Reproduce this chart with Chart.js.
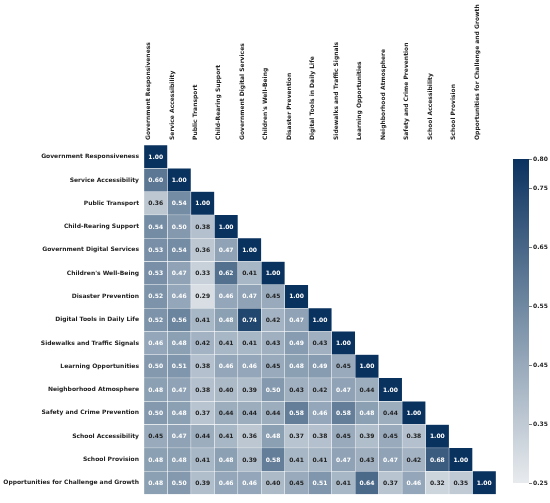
<!DOCTYPE html>
<html>
<head>
<meta charset="utf-8">
<script src="https://cdn.jsdelivr.net/npm/chart.js@4"></script>
<style>
  html, body { margin: 0; padding: 0; background: #fff; overflow: hidden; }
  #wrap { position: relative; width: 550px; height: 503px; }
  #heatmap { position: absolute; left: 0; top: 0; }
  #colorbar { position: absolute; left: 513px; top: 150px; }
</style>
</head>
<body>
<div id="wrap">
  <canvas id="heatmap" width="550" height="503"></canvas>
  <canvas id="colorbar" width="37" height="345"></canvas>
</div>
<script>
// Variables (rows and columns of the correlation matrix)
const labels = [
  'Government Responsiveness', 'Service Accessibility', 'Public Transport',
  'Child-Rearing Support', 'Government Digital Services', "Children's Well-Being",
  'Disaster Prevention', 'Digital Tools in Daily Life', 'Sidewalks and Traffic Signals',
  'Learning Opportunities', 'Neighborhood Atmosphere', 'Safety and Crime Prevention',
  'School Accessibility', 'School Provision', 'Opportunities for Challenge and Growth'
];

// Lower triangle, one array per row
const rowGR   = [1.00];
const rowSA   = [0.60, 1.00];
const rowPT   = [0.36, 0.54, 1.00];
const rowCRS  = [0.54, 0.50, 0.38, 1.00];
const rowGDS  = [0.53, 0.54, 0.36, 0.47, 1.00];
const rowCWB  = [0.53, 0.47, 0.33, 0.62, 0.41, 1.00];
const rowDP   = [0.52, 0.46, 0.29, 0.46, 0.47, 0.45, 1.00];
const rowDTDL = [0.52, 0.56, 0.41, 0.48, 0.74, 0.42, 0.47, 1.00];
const rowSTS  = [0.46, 0.48, 0.42, 0.41, 0.41, 0.43, 0.49, 0.43, 1.00];
const rowLO   = [0.50, 0.51, 0.38, 0.46, 0.46, 0.45, 0.48, 0.49, 0.45, 1.00];
const rowNA   = [0.48, 0.47, 0.38, 0.40, 0.39, 0.50, 0.43, 0.42, 0.47, 0.44, 1.00];
const rowSCP  = [0.50, 0.48, 0.37, 0.44, 0.44, 0.44, 0.58, 0.46, 0.58, 0.48, 0.44, 1.00];
const rowSchA = [0.45, 0.47, 0.44, 0.41, 0.36, 0.48, 0.37, 0.38, 0.45, 0.39, 0.45, 0.38, 1.00];
const rowSP   = [0.48, 0.48, 0.41, 0.48, 0.39, 0.58, 0.41, 0.41, 0.47, 0.43, 0.47, 0.42, 0.68, 1.00];
const rowOCG  = [0.48, 0.50, 0.39, 0.46, 0.46, 0.40, 0.45, 0.51, 0.41, 0.64, 0.37, 0.46, 0.32, 0.35, 1.00];

const rows = [rowGR, rowSA, rowPT, rowCRS, rowGDS, rowCWB, rowDP, rowDTDL,
              rowSTS, rowLO, rowNA, rowSCP, rowSchA, rowSP, rowOCG];

// Colour bar range and ticks
const vmin = 0.25;
const vmax = 0.80;
const cbTicks = [0.25, 0.35, 0.45, 0.55, 0.65, 0.75, 0.80];

// Colour map stops (position 0..1 -> rgb)
const cmapStops = [
  [0.0, [232, 235, 238]],
  [0.5, [122, 145, 168]],
  [1.0, [10, 50, 95]]
];

function cmap(t) {
  t = Math.max(0, Math.min(1, t));
  for (let k = 1; k < cmapStops.length; k++) {
    const [p1, c1] = cmapStops[k];
    const [p0, c0] = cmapStops[k - 1];
    if (t <= p1) {
      const f = (t - p0) / (p1 - p0);
      const c = c0.map((v, j) => Math.round(v + (c1[j] - v) * f));
      return 'rgb(' + c.join(',') + ')';
    }
  }
  return 'rgb(' + cmapStops[cmapStops.length - 1][1].join(',') + ')';
}

function colorFor(v) {
  return cmap((v - vmin) / (vmax - vmin));
}

const FONT = "'DejaVu Sans', sans-serif";
const TEXT = '#222222';

// Draw the numbers in each cell
const annotate = {
  id: 'annotate',
  afterDatasetsDraw(chart) {
    const ctx = chart.ctx;
    ctx.save();
    ctx.font = 'bold 6px ' + FONT;
    ctx.textAlign = 'center';
    ctx.textBaseline = 'middle';
    chart.data.datasets.forEach((ds, i) => {
      const meta = chart.getDatasetMeta(i);
      meta.data.forEach((bar, c) => {
        const v = ds.values[c];
        if (v === undefined || bar.skip) return;
        const p = bar.getCenterPoint();
        ctx.fillStyle = v >= 0.455 ? '#ffffff' : TEXT;
        ctx.fillText(v.toFixed(2), p.x, p.y + 0.5);
      });
    });
    ctx.restore();
  }
};

const datasets = rows.map((row, i) => ({
  data: labels.map((_, c) => (c <= i ? [i - 0.5, i + 0.5] : null)),
  values: row,
  backgroundColor: ctx => colorFor(row[ctx.dataIndex]),
  borderColor: '#ffffff',
  borderWidth: 0.5,
  borderSkipped: false,
  grouped: false,
  barPercentage: 1,
  categoryPercentage: 1
}));

new Chart(document.getElementById('heatmap'), {
  type: 'bar',
  data: { labels: labels, datasets: datasets },
  plugins: [annotate],
  options: {
    responsive: false,
    animation: false,
    layout: { padding: { left: 0, top: 0, right: 54, bottom: 5 } },
    plugins: { legend: { display: false }, tooltip: { enabled: false } },
    scales: {
      x: {
        type: 'category',
        position: 'top',
        grid: { display: false, drawTicks: false, tickLength: 0 },
        border: { display: false },
        ticks: {
          minRotation: 90,
          maxRotation: 90,
          autoSkip: false,
          padding: 5,
          color: TEXT,
          font: { family: FONT, size: 6, weight: 'bold' }
        },
        afterFit: s => { s.height = 145; }
      },
      y: {
        type: 'linear',
        reverse: true,
        min: -0.5,
        max: 14.5,
        grid: { display: false, drawTicks: false, tickLength: 0 },
        border: { display: false },
        afterBuildTicks: s => { s.ticks = labels.map((_, i) => ({ value: i })); },
        ticks: {
          autoSkip: false,
          padding: 5,
          color: TEXT,
          font: { family: FONT, size: 6, weight: 'bold' },
          callback: v => labels[v]
        },
        afterFit: s => { s.width = 144; }
      }
    }
  }
});

// Colour bar
new Chart(document.getElementById('colorbar'), {
  type: 'bar',
  data: {
    labels: [''],
    datasets: [{
      data: [[vmin, vmax]],
      backgroundColor: ctx => {
        const chart = ctx.chart;
        const area = chart.chartArea;
        if (!area) return colorFor(vmax);
        const y = chart.scales.y;
        const g = chart.ctx.createLinearGradient(0, y.getPixelForValue(vmin), 0, y.getPixelForValue(vmax));
        cmapStops.forEach(([p]) => g.addColorStop(p, cmap(p)));
        return g;
      },
      borderWidth: 0,
      barPercentage: 1,
      categoryPercentage: 1
    }]
  },
  options: {
    responsive: false,
    animation: false,
    layout: { padding: { left: 0, top: 9, right: 0, bottom: 12 } },
    plugins: { legend: { display: false }, tooltip: { enabled: false } },
    scales: {
      x: { display: false },
      y: {
        type: 'linear',
        position: 'right',
        min: vmin,
        max: vmax,
        grid: { drawOnChartArea: false, tickLength: 3, tickColor: TEXT, tickWidth: 0.6 },
        border: { display: false },
        afterBuildTicks: s => { s.ticks = cbTicks.map(v => ({ value: v })); },
        ticks: {
          padding: 1,
          color: TEXT,
          font: { family: FONT, size: 6, weight: 'bold' },
          callback: v => v.toFixed(2)
        },
        afterFit: s => { s.width = 21; }
      }
    }
  }
});
</script>
</body>
</html>
